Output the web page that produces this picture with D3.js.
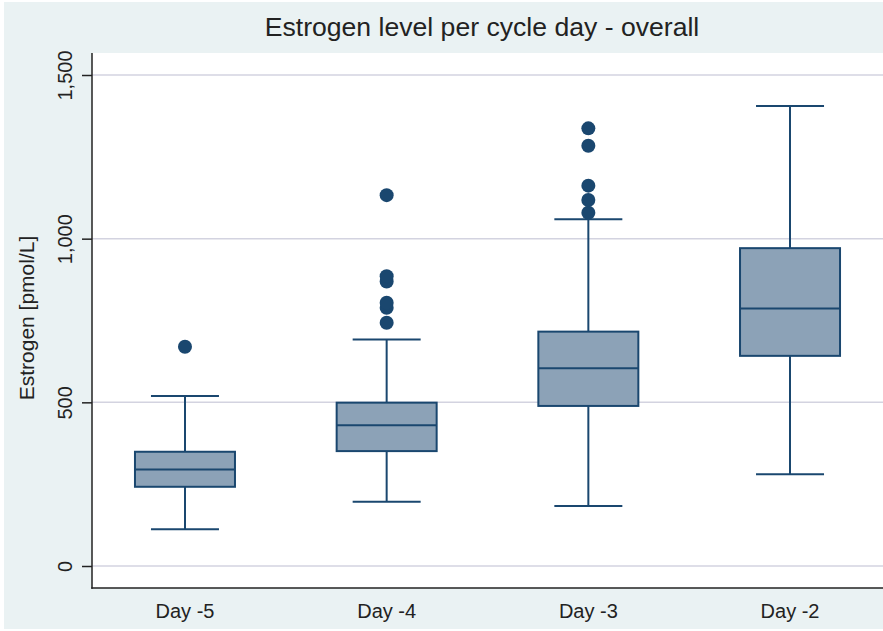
<!DOCTYPE html>
<html>
<head>
<meta charset="utf-8">
<script src="https://cdn.jsdelivr.net/npm/d3@7"></script>
<style>
  html, body { margin: 0; padding: 0; background: #ffffff; }
  svg { display: block; font-family: "Liberation Sans", Arial, Helvetica, sans-serif; }
</style>
</head>
<body>
<svg id="chart" width="883" height="631"></svg>
<script>
// Estrogen box-plot summaries per cycle day
const categories = ["Day -5", "Day -4", "Day -3", "Day -2"];
const whiskerLow  = [112, 196, 183, 280];
const q1          = [242, 351, 489, 642];
const median      = [295, 430, 604, 787];
const q3          = [349, 499, 716, 971];
const whiskerHigh = [519, 692, 1059, 1405];
const outliers = [
  [670],
  [743, 789, 804, 869, 885, 1133],
  [1079, 1118, 1162, 1284, 1337],
  []
];
const yTicks = [0, 500, 1000, 1500];

const titleText = "Estrogen level per cycle day - overall";
const yTitle = "Estrogen [pmol/L]";

const W = 883, H = 631;
const plot = { left: 92, right: 883, top: 53, bottom: 588 };
const navy = "#1a476f";
const boxFill = "#8ca2b7";
const grid = "#d3d3e0";

const svg = d3.select("#chart");

// outer graph region
svg.append("rect").attr("x", 4).attr("y", 2).attr("width", W - 4).attr("height", 627)
  .attr("fill", "#eaf2f3");
// plot region
svg.append("rect").attr("x", plot.left).attr("y", plot.top)
  .attr("width", plot.right - plot.left).attr("height", plot.bottom - plot.top)
  .attr("fill", "#ffffff");

const x = d3.scalePoint().domain(categories).range([plot.left, plot.right]).padding(0.461);
const y = d3.scaleLinear().domain([0, 1500]).range([566, 75]);

// horizontal grid lines
svg.append("g").selectAll("line").data(yTicks).join("line")
  .attr("x1", plot.left).attr("x2", plot.right)
  .attr("y1", d => y(d)).attr("y2", d => y(d))
  .attr("stroke", grid).attr("stroke-width", 1.5);

// y axis
const yAxis = d3.axisLeft(y).tickValues(yTicks).tickSize(10).tickPadding(6)
  .tickFormat(d3.format(","));
const gy = svg.append("g").attr("transform", `translate(${plot.left},0)`).call(yAxis);
gy.select(".domain").remove();
gy.selectAll(".tick line").attr("stroke", "#222").attr("stroke-width", 1.5);
gy.selectAll(".tick text")
  .attr("font-size", 20).attr("fill", "#222")
  .attr("text-anchor", "middle")
  .attr("x", 0).attr("dy", 0)
  .attr("transform", "translate(-20,0) rotate(-90)");
svg.append("line").attr("x1", plot.left).attr("x2", plot.left)
  .attr("y1", plot.top).attr("y2", plot.bottom + 0.75)
  .attr("stroke", "#222").attr("stroke-width", 1.5);

// x axis baseline and labels
svg.append("line").attr("x1", plot.left - 0.75).attr("x2", plot.right)
  .attr("y1", plot.bottom).attr("y2", plot.bottom)
  .attr("stroke", "#222").attr("stroke-width", 1.5);
svg.append("g").selectAll("text").data(categories).join("text")
  .attr("x", d => x(d)).attr("y", 618)
  .attr("text-anchor", "middle").attr("font-size", 20).attr("fill", "#222")
  .text(d => d);

// titles
svg.append("text").attr("x", 482).attr("y", 36).attr("text-anchor", "middle")
  .attr("font-size", 26.6).attr("fill", "#222").text(titleText);
svg.append("text").attr("transform", "translate(34,318) rotate(-90)")
  .attr("text-anchor", "middle").attr("font-size", 21).attr("fill", "#222").text(yTitle);

// boxes
const boxW = 100, capW = 68;
const data = categories.map((c, i) => ({
  c, lo: whiskerLow[i], q1: q1[i], med: median[i], q3: q3[i], hi: whiskerHigh[i], out: outliers[i]
}));
const g = svg.append("g").selectAll("g").data(data).join("g");

g.append("line").attr("x1", d => x(d.c)).attr("x2", d => x(d.c))
  .attr("y1", d => y(d.hi)).attr("y2", d => y(d.q3))
  .attr("stroke", navy).attr("stroke-width", 2);
g.append("line").attr("x1", d => x(d.c)).attr("x2", d => x(d.c))
  .attr("y1", d => y(d.q1)).attr("y2", d => y(d.lo))
  .attr("stroke", navy).attr("stroke-width", 2);
g.append("line").attr("x1", d => x(d.c) - capW / 2).attr("x2", d => x(d.c) + capW / 2)
  .attr("y1", d => y(d.hi)).attr("y2", d => y(d.hi))
  .attr("stroke", navy).attr("stroke-width", 2);
g.append("line").attr("x1", d => x(d.c) - capW / 2).attr("x2", d => x(d.c) + capW / 2)
  .attr("y1", d => y(d.lo)).attr("y2", d => y(d.lo))
  .attr("stroke", navy).attr("stroke-width", 2);
g.append("rect").attr("x", d => x(d.c) - boxW / 2).attr("width", boxW)
  .attr("y", d => y(d.q3)).attr("height", d => y(d.q1) - y(d.q3))
  .attr("fill", boxFill).attr("stroke", navy).attr("stroke-width", 2);
g.append("line").attr("x1", d => x(d.c) - boxW / 2).attr("x2", d => x(d.c) + boxW / 2)
  .attr("y1", d => y(d.med)).attr("y2", d => y(d.med))
  .attr("stroke", navy).attr("stroke-width", 2);
g.selectAll("circle").data(d => d.out.map(v => ({ c: d.c, v }))).join("circle")
  .attr("cx", d => x(d.c)).attr("cy", d => y(d.v)).attr("r", 7)
  .attr("fill", navy);
</script>
</body>
</html>
